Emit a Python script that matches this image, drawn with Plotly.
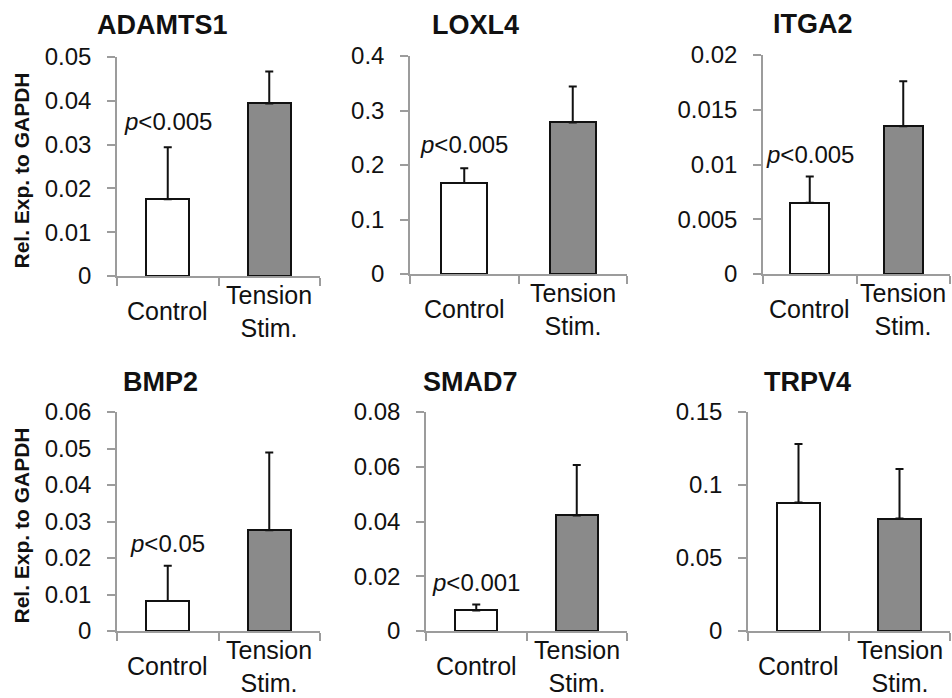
import plotly.graph_objects as go

W, H = 952, 698

genes = ["ADAMTS1", "LOXL4", "ITGA2", "BMP2", "SMAD7", "TRPV4"]
categories = ["Control", "Tension<br>Stim."]

control_mean = [0.0175, 0.167, 0.0065, 0.0082, 0.0075, 0.088]
control_err = [0.0119, 0.027, 0.0024, 0.0097, 0.0022, 0.040]
tension_mean = [0.0394, 0.278, 0.0135, 0.0276, 0.0422, 0.077]
tension_err = [0.0073, 0.066, 0.0041, 0.0213, 0.0184, 0.034]

p_labels = ["<i>p</i>&lt;0.005", "<i>p</i>&lt;0.005", "<i>p</i>&lt;0.005",
            "<i>p</i>&lt;0.05", "<i>p</i>&lt;0.001", ""]
p_y = [0.0352, 0.237, 0.0109, 0.0241, 0.0178, None]

y_max = [0.05, 0.4, 0.02, 0.06, 0.08, 0.15]
y_tickvals = [
    [0, 0.01, 0.02, 0.03, 0.04, 0.05],
    [0, 0.1, 0.2, 0.3, 0.4],
    [0, 0.005, 0.01, 0.015, 0.02],
    [0, 0.01, 0.02, 0.03, 0.04, 0.05, 0.06],
    [0, 0.02, 0.04, 0.06, 0.08],
    [0, 0.05, 0.1, 0.15],
]
y_ticktext = [
    ["0", "0.01", "0.02", "0.03", "0.04", "0.05"],
    ["0", "0.1", "0.2", "0.3", "0.4"],
    ["0", "0.005", "0.01", "0.015", "0.02"],
    ["0", "0.01", "0.02", "0.03", "0.04", "0.05", "0.06"],
    ["0", "0.02", "0.04", "0.06", "0.08"],
    ["0", "0.05", "0.1", "0.15"],
]
y_title = "Rel. Exp. to GAPDH"

# panel boxes in pixels: (left, right, top, bottom)
boxes = [
    (117, 320, 57, 276),
    (410, 627, 56, 274),
    (763, 950, 55, 274),
    (117, 320, 412, 631),
    (426, 627, 412, 631),
    (748, 950, 412, 631),
]
title_pos = [(162, 25), (475, 25), (813, 24), (160, 382), (470, 382), (807, 382)]

FONT = "Liberation Sans, Arial, sans-serif"
TXT = "#111111"
AX = "#9c9c9c"

fig = go.Figure()
annotations = []

for i, g in enumerate(genes):
    n = i + 1
    xa = "x" if n == 1 else f"x{n}"
    ya = "y" if n == 1 else f"y{n}"
    l, r, t, b = boxes[i]
    fig.add_trace(go.Bar(
        x=[0, 1],
        y=[control_mean[i], tension_mean[i]],
        width=0.42,
        marker=dict(color=["#ffffff", "#8a8a8a"], line=dict(color="#111111", width=2)),
        error_y=dict(type="data", symmetric=False,
                     array=[control_err[i], tension_err[i]], arrayminus=[0, 0],
                     color="#111111", thickness=2, width=4),
        xaxis=xa, yaxis=ya, showlegend=False, hoverinfo="skip",
    ))
    xkey = "xaxis" if n == 1 else f"xaxis{n}"
    ykey = "yaxis" if n == 1 else f"yaxis{n}"
    fig.update_layout(**{
        xkey: dict(domain=[l / W, r / W], anchor=ya, range=[-0.5, 1.5], automargin=False,
                   tickmode="array", tickvals=[-0.5, 0.5, 1.5], showticklabels=False,
                   ticks="outside", ticklen=8, tickcolor=AX, tickwidth=1.5,
                   showline=True, linecolor=AX, linewidth=1.5,
                   showgrid=False, zeroline=False, fixedrange=True),
        ykey: dict(domain=[1 - b / H, 1 - t / H], anchor=xa, range=[0, y_max[i]],
                   automargin=False,
                   tickmode="array", tickvals=y_tickvals[i], ticktext=y_ticktext[i],
                   ticks="outside", ticklen=8, tickcolor=AX, tickwidth=1.5,
                   ticklabelstandoff=11,
                   tickfont=dict(family=FONT, size=24, color=TXT),
                   showline=True, linecolor=AX, linewidth=1.5,
                   showgrid=False, zeroline=False, fixedrange=True),
    })
    for j, c in enumerate(categories):
        annotations.append(dict(
            x=j, y=0, xref=xa, yref=f"{ya} domain", text=c, showarrow=False,
            yanchor="middle", xanchor="center", yshift=-35,
            font=dict(family=FONT, size=25, color=TXT),
        ))
    cx, cy = title_pos[i]
    annotations.append(dict(
        x=cx / W, y=1 - cy / H, xref="paper", yref="paper", text=f"<b>{g}</b>",
        showarrow=False, xanchor="center", yanchor="middle",
        font=dict(family=FONT, size=27, color=TXT),
    ))
    if p_labels[i]:
        annotations.append(dict(
            x=0, y=p_y[i], xref=xa, yref=ya, text=p_labels[i], showarrow=False,
            xanchor="center", yanchor="middle",
            font=dict(family=FONT, size=24, color=TXT),
        ))

for (l, r, t, b) in (boxes[0], boxes[3]):
    annotations.append(dict(
        x=21 / W, y=1 - ((t + b) / 2 + 4) / H, xref="paper", yref="paper",
        text=f"<b>{y_title}</b>", textangle=-90, showarrow=False,
        xanchor="center", yanchor="middle",
        font=dict(family=FONT, size=21, color=TXT),
    ))

fig.update_layout(
    width=W, height=H, margin=dict(l=0, r=0, t=0, b=0, autoexpand=False),
    paper_bgcolor="white", plot_bgcolor="white",
    annotations=annotations, bargap=0,
)

fig.write_html(
    "out.html",
    config={"displayModeBar": False},
    post_script="document.body.style.margin='0';document.body.style.overflow='hidden';"
                "document.documentElement.style.overflow='hidden';",
)
